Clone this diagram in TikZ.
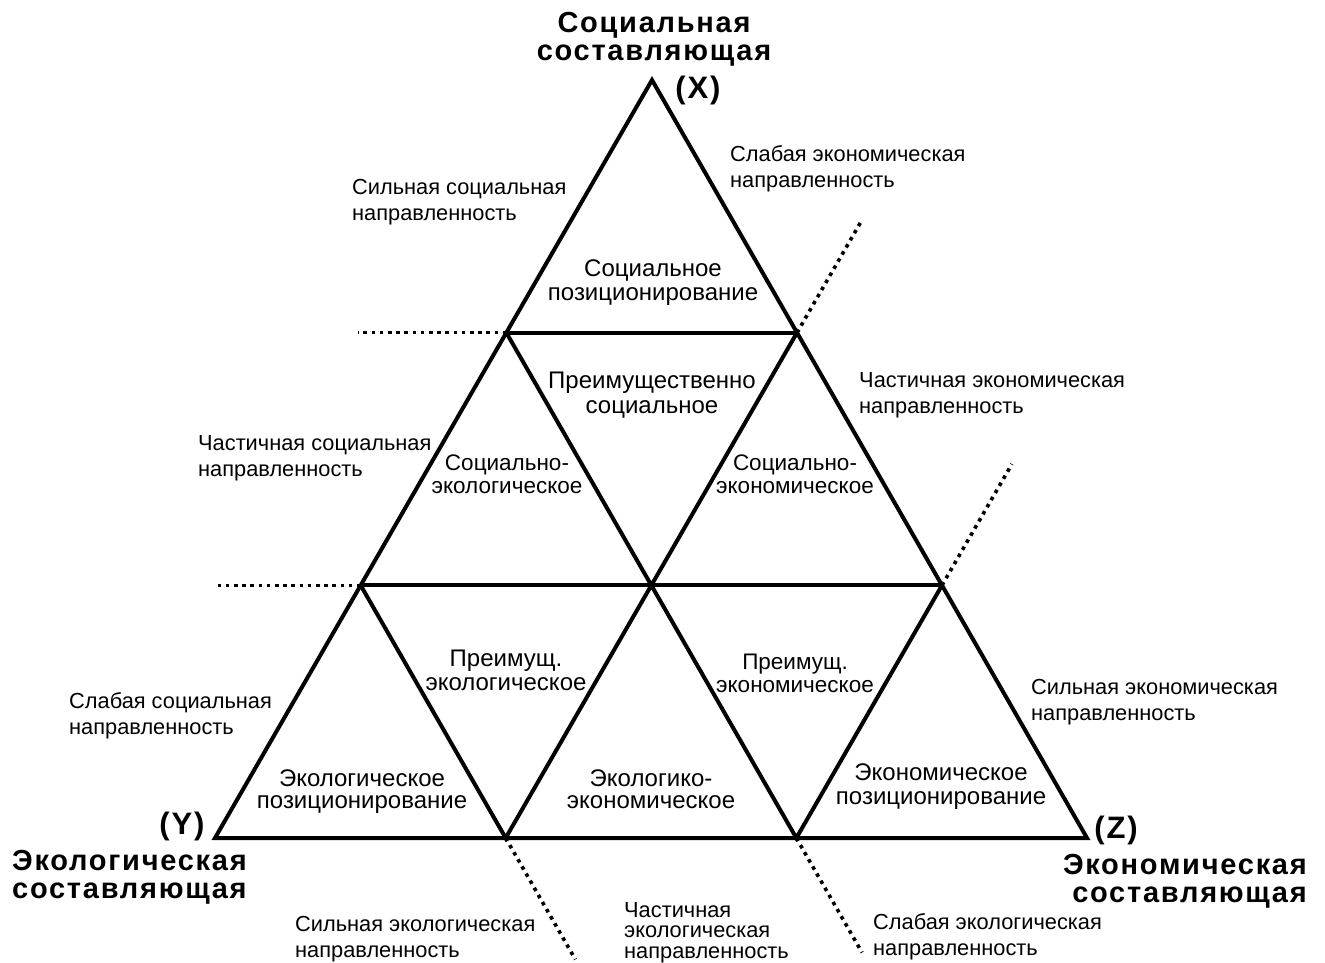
\documentclass[tikz,border=0pt]{standalone}
\usepackage{fontspec}
\setmainfont{Liberation Sans}
\newfontfamily\ttlfont[LetterSpace=6]{Liberation Sans}
\usetikzlibrary{calc}
\tikzset{
  edge/.style={line width=4pt, line join=miter, line cap=butt},
  dotline/.style={line width=3.6pt, dash pattern=on 3.6pt off 4.6pt},
  lbl/.style={font=\fontsize{21.8}{25.5}\selectfont, inner sep=0pt, align=left, anchor=base west},
  inlbl/.style={font=\fontsize{24}{23.5}\selectfont, inner sep=0pt, align=center, anchor=base},
  inlbls/.style={inlbl, font=\fontsize{22.5}{23}\selectfont},
  ttl/.style={font=\fontsize{29}{28}\ttlfont\bfseries, inner sep=0pt},
}
\begin{document}
\begin{tikzpicture}[x=1pt,y=-1pt]
\useasboundingbox (0,0) rectangle (1325,963);
% vertices
\coordinate (A) at (652,80);
\coordinate (D1) at (215,838);
\coordinate (D4) at (1087,838);
\coordinate (B1) at ($(A)!1/3!(D1)$);
\coordinate (B2) at ($(A)!1/3!(D4)$);
\coordinate (C1) at ($(A)!2/3!(D1)$);
\coordinate (C3) at ($(A)!2/3!(D4)$);
\coordinate (C2) at ($(C1)!1/2!(C3)$);
\coordinate (D2) at ($(D1)!1/3!(D4)$);
\coordinate (D3) at ($(D1)!2/3!(D4)$);
% dotted ends
\coordinate (dTL) at ($(B1)!-148pt!(B2)$);
\coordinate (dML) at ($(C1)!-147pt!(C2)$);
\coordinate (dTR) at ($(B2)!-128pt!(C2)$);
\coordinate (dMR) at ($(C3)!-140pt!(D3)$);
\coordinate (dBL) at ($(D2)!-140pt!(C1)$);
\coordinate (dBR) at ($(D3)!-132pt!(C2)$);
% dotted lines
\draw[dotline] (B1) -- (dTL);
\draw[dotline] (C1) -- (dML);
\draw[dotline] (B2) -- (dTR);
\draw[dotline] (C3) -- (dMR);
\draw[dotline] (D2) -- (dBL);
\draw[dotline] (D3) -- (dBR);
% triangle
\draw[edge] (A) -- (D1) -- (D4) -- cycle;
\draw[edge] (B1) -- (B2);
\draw[edge] (C1) -- (C3);
\draw[edge] (B1) -- (C2) -- (B2);
\draw[edge] (C1) -- (D2) -- (C2) -- (D3) -- (C3);
% titles
\node[ttl, align=center, anchor=base] (tX) at (654,61) {Социальная\\составляющая};
\node[ttl, anchor=base, font=\fontsize{31}{31}\ttlfont\bfseries] (lX) at (698,99) {(X)};
\node[ttl, anchor=base, font=\fontsize{31}{31}\ttlfont\bfseries] (lY) at (182,834) {(Y)};
\node[ttl, anchor=base, font=\fontsize{31}{31}\ttlfont\bfseries] (lZ) at (1116,838) {(Z)};
\node[ttl, align=left, anchor=base west] (tY) at (12,898) {Экологическая\\составляющая};
\node[ttl, align=right, anchor=base east] (tZ) at (1307,902) {Экономическая\\составляющая};
% outer labels
\node[lbl] (weakEcon) at (730,187) {Слабая экономическая\\направленность};
\node[lbl] (strongSoc) at (352,220) {Сильная социальная\\направленность};
\node[lbl] (partEcon) at (859,413) {Частичная экономическая\\направленность};
\node[lbl] (partSoc) at (198,476) {Частичная социальная\\направленность};
\node[lbl] (weakSoc) at (69,734) {Слабая социальная\\направленность};
\node[lbl] (strongEcon) at (1031,720) {Сильная экономическая\\направленность};
\node[lbl] (strongEco) at (295,957) {Сильная экологическая\\направленность};
\node[lbl, font=\fontsize{21.8}{20.5}\selectfont] (partEco) at (624,958) {Частичная\\экологическая\\направленность};
\node[lbl] (weakEco) at (873,955) {Слабая экологическая\\направленность};
% inner labels
\node[inlbl] (socPos) at (653,300) {Социальное\\позиционирование};
\node[inlbl, font=\fontsize{24}{25}\selectfont] (mainSoc) at (652,413) {Преимущественно\\социальное};
\node[inlbls] (socEco) at (507,493) {Социально-\\экологическое};
\node[inlbls] (socEcon) at (795,493) {Социально-\\экономическое};
\node[inlbl] (prEco) at (506,690) {Преимущ.\\экологическое};
\node[inlbls] (prEcon) at (795,692) {Преимущ.\\экономическое};
\node[inlbl, font=\fontsize{24}{21.5}\selectfont] (ecoPos) at (362,808) {Экологическое\\позиционирование};
\node[inlbl, font=\fontsize{24}{22}\selectfont] (ecoEcon) at (651,808) {Экологико-\\экономическое};
\node[inlbl] (econPos) at (941,804) {Экономическое\\позиционирование};
\end{tikzpicture}
\end{document}
